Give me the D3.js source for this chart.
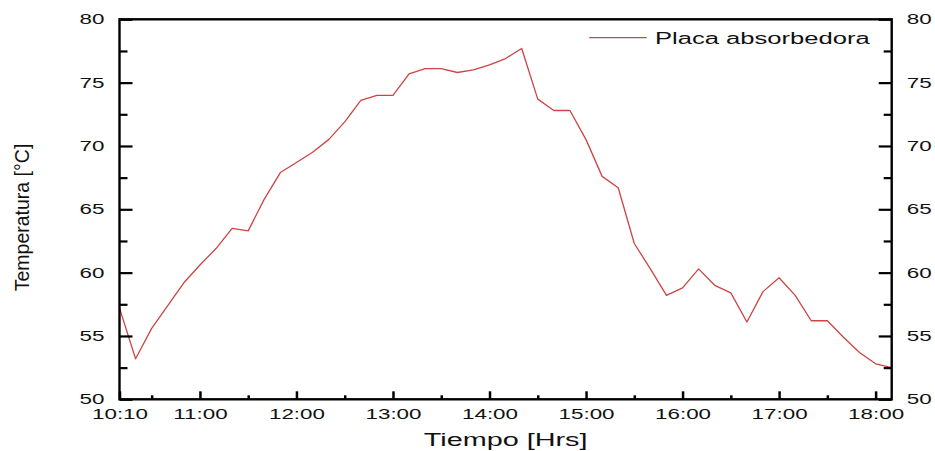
<!DOCTYPE html>
<html>
<head>
<meta charset="utf-8">
<script src="https://cdn.jsdelivr.net/npm/d3@7"></script>
<style>
  html, body { margin: 0; padding: 0; background: #fff; }
  svg { display: block; font-family: "Liberation Sans", Arial, sans-serif; }
</style>
</head>
<body>
<svg id="chart" width="935" height="451"></svg>
<script>
// Absorber plate temperature over the day, sampled every 10 minutes
const times = ["10:10","10:20","10:30","10:40","10:50","11:00","11:10","11:20","11:30","11:40","11:50",
  "12:00","12:10","12:20","12:30","12:40","12:50","13:00","13:10","13:20","13:30","13:40","13:50",
  "14:00","14:10","14:20","14:30","14:40","14:50","15:00","15:10","15:20","15:30","15:40","15:50",
  "16:00","16:10","16:20","16:30","16:40","16:50","17:00","17:10","17:20","17:30","17:40","17:50",
  "18:00","18:10"];
const placa = [57.2,53.2,55.6,57.4,59.2,60.6,61.9,63.5,63.3,65.8,67.9,
  68.7,69.5,70.5,71.9,73.6,74.0,74.0,75.7,76.1,76.1,75.8,76.0,
  76.4,76.9,77.7,73.7,72.8,72.8,70.5,67.6,66.7,62.3,60.3,58.2,
  58.8,60.3,59.0,58.4,56.1,58.5,59.6,58.2,56.2,56.2,54.9,53.7,
  52.8,52.5];
const xTickLabels = ["10:10","11:00","12:00","13:00","14:00","15:00","16:00","17:00","18:00"];
const xMinorLabels = ["10:30","11:30","12:30","13:30","14:30","15:30","16:30","17:30"];
const yTicks = [50,55,60,65,70,75,80];
const yMinor = [52.5,57.5,62.5,67.5,72.5,77.5];
const seriesName = "Placa absorbedora";
const xTitle = "Tiempo [Hrs]";
const yTitle = "Temperatura [°C]";

const toMin = s => { const [h, m] = s.split(":").map(Number); return h * 60 + m; };

const W = 935, H = 451;
const margin = { left: 119.5, right: 43.3, top: 19.3, bottom: 51.7 };
const pw = W - margin.left - margin.right;
const ph = H - margin.top - margin.bottom;
const SX = 1.6; // horizontal stretch of the lettering

const svg = d3.select("#chart");
const g = svg.append("g").attr("transform", `translate(${margin.left},${margin.top})`);

const x = d3.scaleLinear().domain([toMin("10:10"), toMin("18:10")]).range([0, pw]);
const y = d3.scaleLinear().domain([50, 80]).range([ph, 0]);

const data = times.map((t, i) => ({ t: toMin(t), v: placa[i] }));

// series line
g.append("path")
  .datum(data)
  .attr("fill", "none")
  .attr("stroke", "#cc4444")
  .attr("stroke-width", 1.3)
  .attr("stroke-linejoin", "round")
  .attr("d", d3.line().x(d => x(d.t)).y(d => y(d.v)));

const tickFont = 14;

function styleAxis(sel) {
  sel.select(".domain").remove();
  sel.selectAll(".tick line").attr("stroke", "#000").attr("stroke-width", 2.2);
  sel.selectAll(".tick text")
    .attr("fill", "#111")
    .style("font-size", tickFont + "px");
}

// bottom axis: major (hours) and minor (half hours), ticks point inward
const xMajor = g.append("g").attr("transform", `translate(0,${ph})`)
  .call(d3.axisBottom(x).tickValues(xTickLabels.map(toMin)).tickFormat((d, i) => xTickLabels[i])
    .tickSizeInner(-8).tickSizeOuter(0).tickPadding(8));
styleAxis(xMajor);
xMajor.selectAll(".tick line").attr("stroke-width", 2.5);
xMajor.selectAll(".tick text").attr("dy", null).attr("y", 20)
  .attr("transform", `scale(${SX},1)`);

const xMin = g.append("g").attr("transform", `translate(0,${ph})`)
  .call(d3.axisBottom(x).tickValues(xMinorLabels.map(toMin)).tickFormat("")
    .tickSizeInner(-4).tickSizeOuter(0));
styleAxis(xMin);
xMin.selectAll(".tick line").attr("stroke-width", 2.5);

// left axis
const yL = g.append("g")
  .call(d3.axisLeft(y).tickValues(yTicks).tickFormat(d3.format("d"))
    .tickSizeInner(-13).tickSizeOuter(0).tickPadding(15 / SX));
styleAxis(yL);
yL.selectAll(".tick text").attr("transform", `scale(${SX},1)`);
const yLm = g.append("g")
  .call(d3.axisLeft(y).tickValues(yMinor).tickFormat("").tickSizeInner(-8).tickSizeOuter(0));
styleAxis(yLm);

// right axis
const yR = g.append("g").attr("transform", `translate(${pw},0)`)
  .call(d3.axisRight(y).tickValues(yTicks).tickFormat(d3.format("d"))
    .tickSizeInner(-13).tickSizeOuter(0).tickPadding(15 / SX));
styleAxis(yR);
yR.selectAll(".tick text").attr("transform", `scale(${SX},1)`);
const yRm = g.append("g").attr("transform", `translate(${pw},0)`)
  .call(d3.axisRight(y).tickValues(yMinor).tickFormat("").tickSizeInner(-8).tickSizeOuter(0));
styleAxis(yRm);

// frame
g.append("rect")
  .attr("x", 0).attr("y", 0).attr("width", pw).attr("height", ph)
  .attr("fill", "none").attr("stroke", "#000").attr("stroke-width", 2.4);

// legend
const lgY = 37.7 - margin.top;
g.append("line")
  .attr("x1", pw - 302.5).attr("x2", pw - 245)
  .attr("y1", lgY).attr("y2", lgY)
  .attr("stroke", "#cc4444").attr("stroke-width", 1.3);
g.append("text")
  .attr("transform", `translate(${pw - 236.7},${lgY + 6.3}) scale(${SX},1)`)
  .style("font-size", "16px").attr("fill", "#111")
  .text(seriesName);

// axis titles
svg.append("text")
  .attr("transform", `translate(${margin.left + pw / 2},446) scale(${SX},1)`)
  .attr("text-anchor", "middle")
  .style("font-size", "18px").attr("fill", "#111")
  .text(xTitle);

svg.append("text")
  .attr("transform", `translate(28.5,217.5) rotate(-90)`)
  .attr("text-anchor", "middle")
  .style("font-size", "19.5px").attr("fill", "#111")
  .text(yTitle);
</script>
</body>
</html>
